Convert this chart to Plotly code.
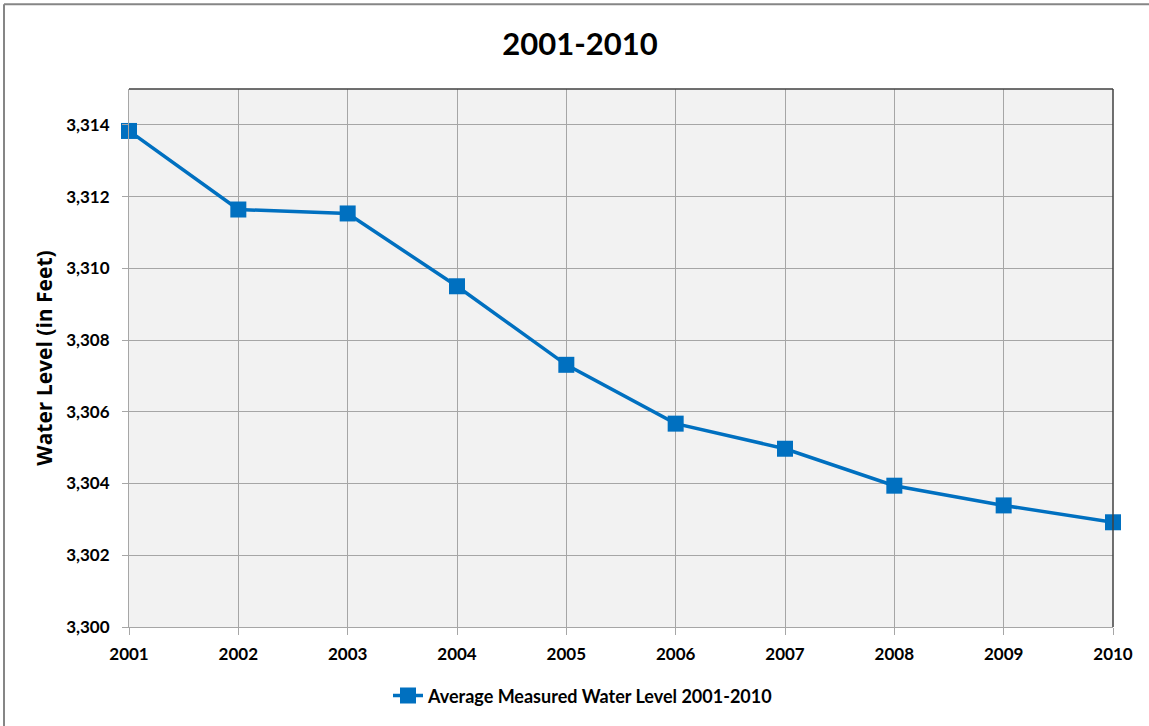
import plotly.graph_objects as go

years = [2001, 2002, 2003, 2004, 2005, 2006, 2007, 2008, 2009, 2010]
water_level = [3313.83, 3311.64, 3311.53, 3309.50, 3307.31, 3305.67, 3304.97, 3303.94, 3303.39, 3302.92]
y_ticks = [3300, 3302, 3304, 3306, 3308, 3310, 3312, 3314]
series_name = "Average Measured Water Level 2001-2010"
title_text = "2001-2010"
y_title = "Water Level (in Feet)"

FONT = "Lato"
BLUE = "#0070C0"
GRID = "#a6a6a6"

fig = go.Figure()
fig.add_trace(go.Scatter(
    x=years, y=water_level, name="<b>" + series_name + "</b>", mode="lines+markers",
    line=dict(color=BLUE, width=3.5),
    marker=dict(symbol="square", size=16, color=BLUE),
    cliponaxis=False,
))

fig.update_layout(
    width=1149, height=726,
    margin=dict(l=129, r=36, t=89, b=97),
    paper_bgcolor="white", plot_bgcolor="#f2f2f2",
    font=dict(family=FONT, color="#000000"),
    title=dict(text="<b>" + title_text + "</b>", x=580 / 1149, xanchor="center",
               y=1 - 44 / 726, yanchor="middle", font=dict(size=31, family=FONT)),
    showlegend=True,
    legend=dict(orientation="h", x=(583 - 129) / 984, xanchor="center", y=-0.128, yanchor="middle",
                font=dict(size=18, family=FONT), bgcolor="rgba(0,0,0,0)"),
    xaxis=dict(range=[2001, 2010], tickmode="array", tickvals=years,
               ticktext=["<b>%d</b>" % y for y in years],
               showgrid=True, gridcolor=GRID, gridwidth=1,
               showline=True, linecolor=GRID, linewidth=1,
               ticks="outside", ticklen=7, tickcolor=GRID,
               tickfont=dict(size=17, family=FONT), zeroline=False,
               ticklabelstandoff=5),
    yaxis=dict(range=[3300, 3315], tickmode="array", tickvals=y_ticks,
               ticktext=["<b>{:,}</b>".format(v) for v in y_ticks],
               showgrid=True, gridcolor=GRID, gridwidth=1,
               showline=True, linecolor=GRID, linewidth=1,
               ticks="outside", ticklen=6, tickcolor=GRID,
               tickfont=dict(size=17, family=FONT), zeroline=False,
               ticklabelstandoff=9,
               title=dict(text="<b>" + y_title + "</b>", font=dict(size=21, family="Open Sans"),
                          standoff=7)),
    shapes=[
        dict(type="line", xref="x domain", yref="y domain", x0=0, x1=1, y0=1, y1=1,
             line=dict(color="#404040", width=1.5)),
        dict(type="line", xref="x domain", yref="y domain", x0=1, x1=1, y0=0, y1=1,
             line=dict(color="#404040", width=1.5)),
        dict(type="line", xref="paper", yref="paper",
             x0=-125 / 984, x1=1.1, y0=1 + 85 / 540, y1=1 + 85 / 540,
             line=dict(color="#868686", width=2)),
        dict(type="line", xref="paper", yref="paper",
             x0=-125 / 984, x1=-125 / 984, y0=1 + 85 / 540, y1=-0.3,
             line=dict(color="#868686", width=2)),
    ],
)

fig.write_html("out.html")
